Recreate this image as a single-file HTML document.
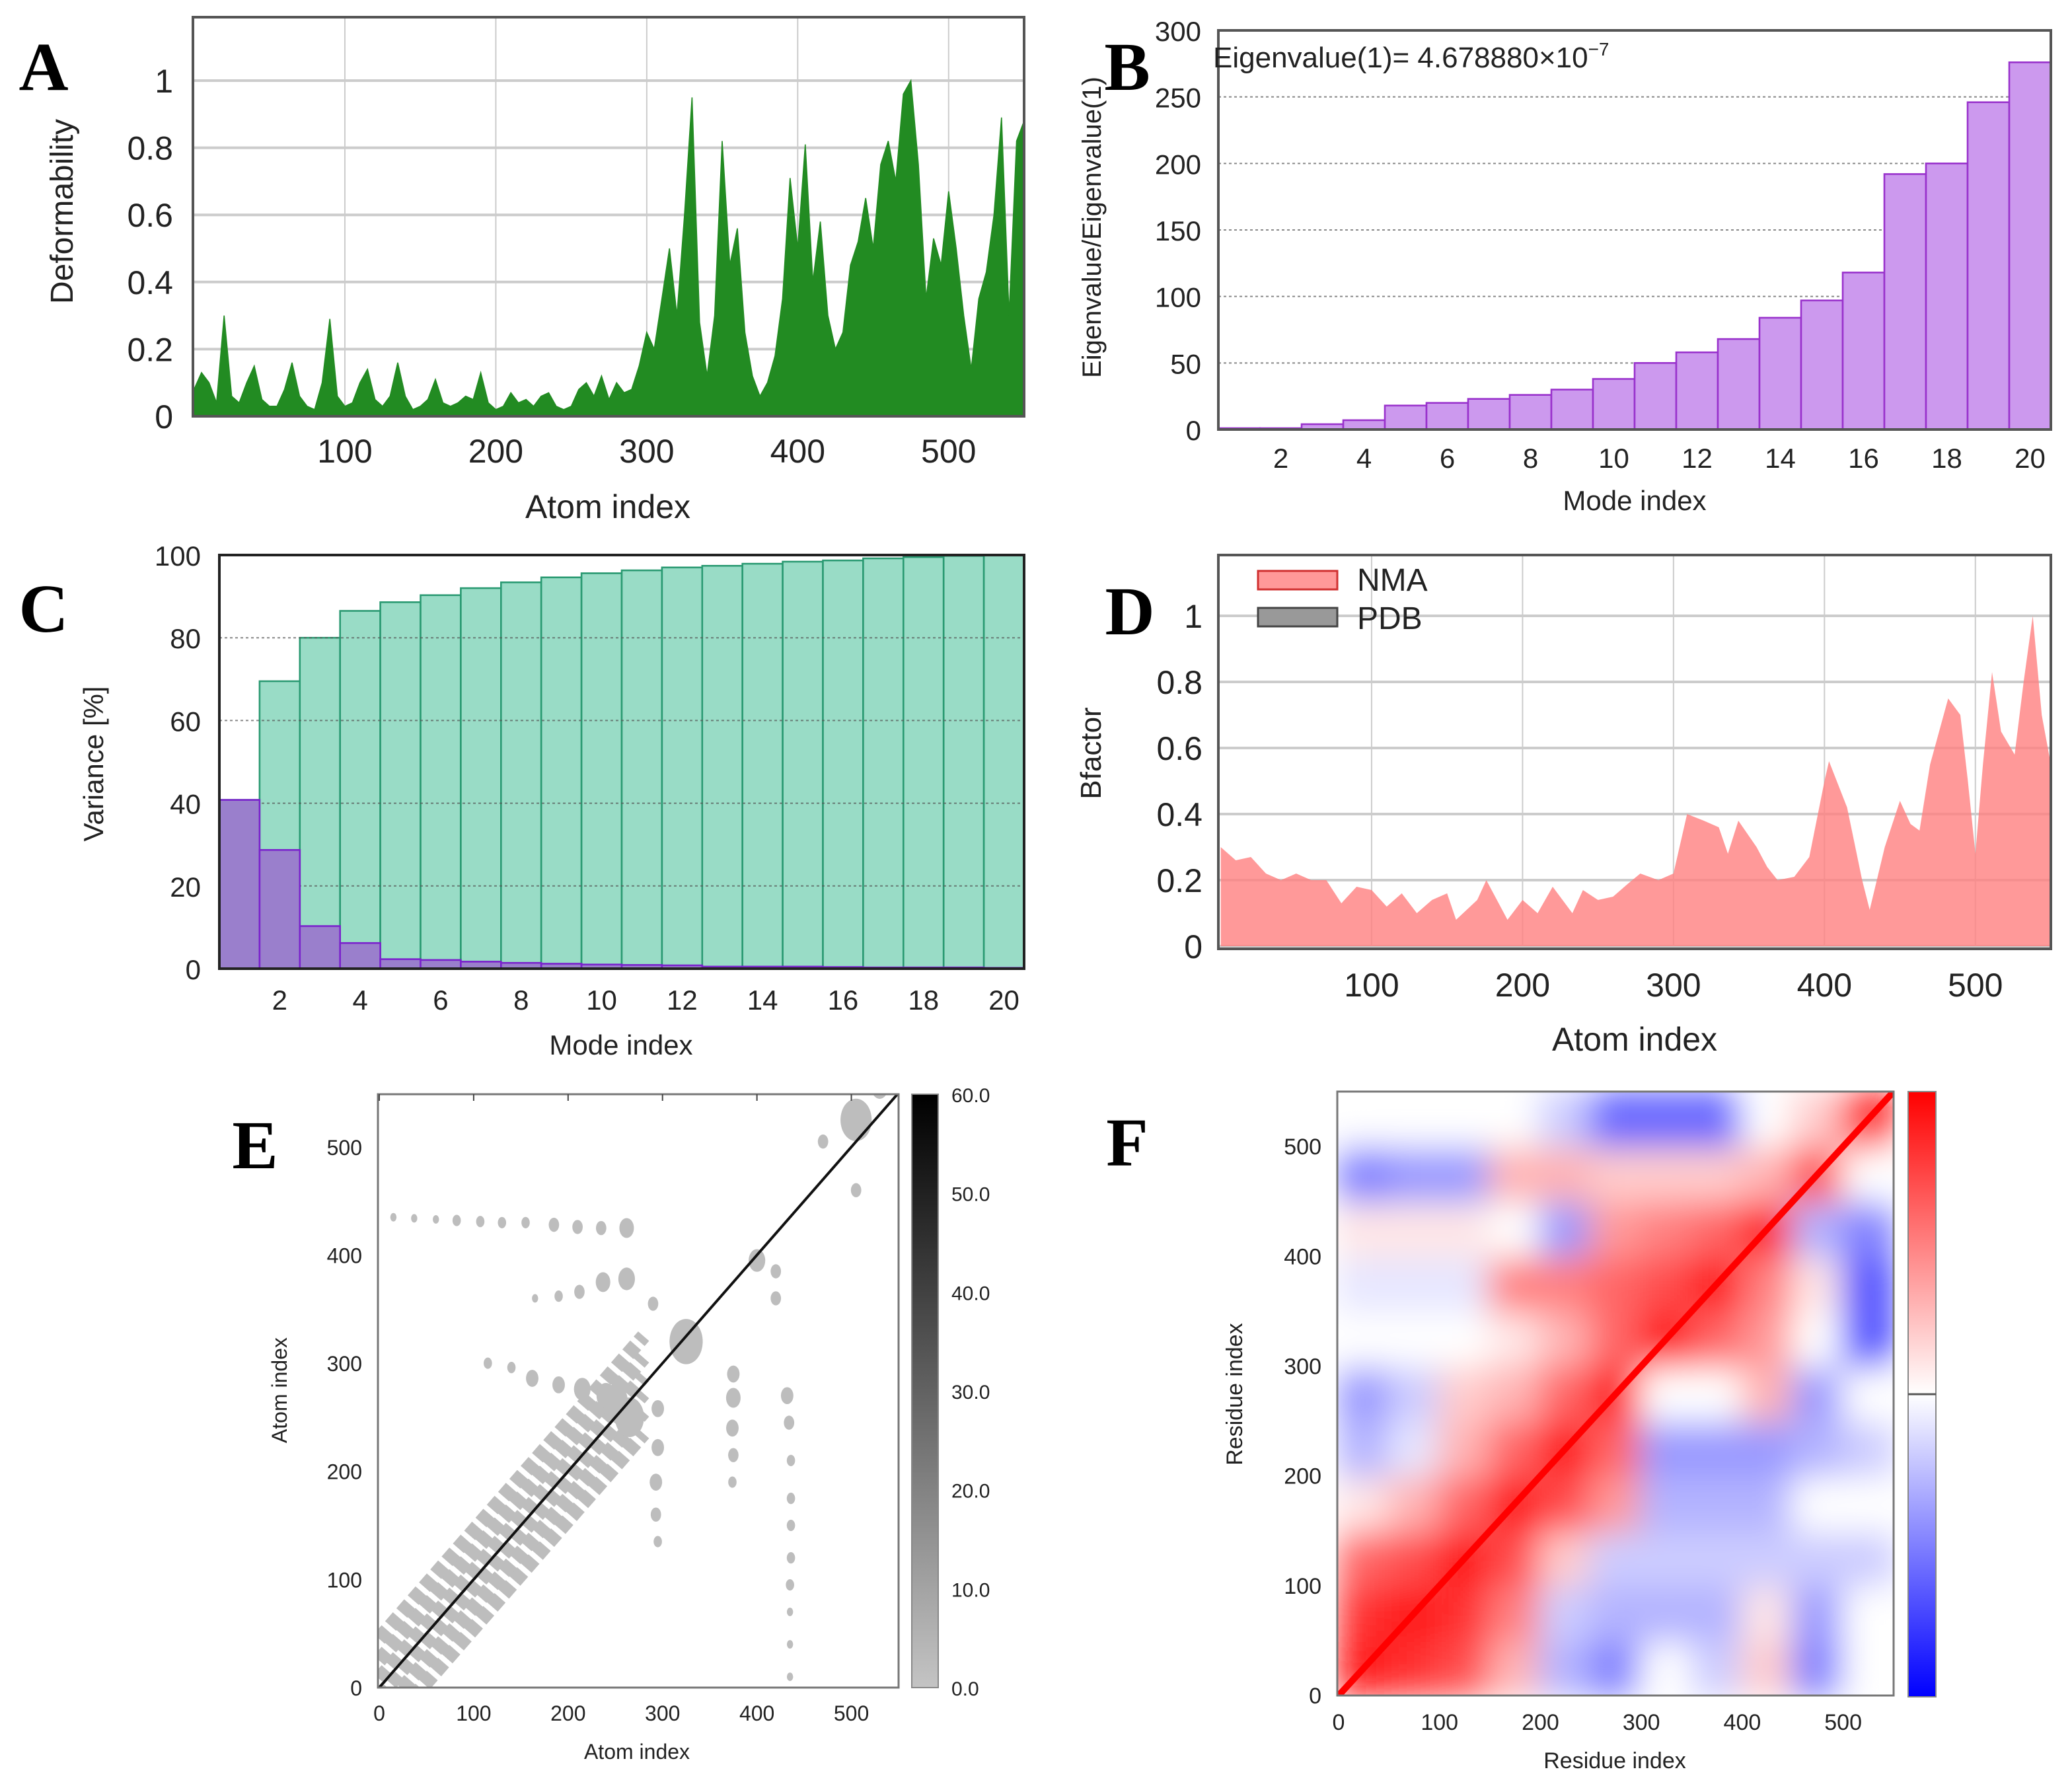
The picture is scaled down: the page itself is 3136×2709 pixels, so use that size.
<!DOCTYPE html>
<html><head><meta charset="utf-8"><style>
html,body{margin:0;padding:0;background:#fff;}
svg{display:block;}
text{font-family:"Liberation Sans Narrow","Liberation Sans",sans-serif;fill:#222;}
.lt{font-family:"Liberation Serif",serif;font-weight:bold;fill:#000;}
</style></head><body>
<svg id="fig" xmlns="http://www.w3.org/2000/svg" width="3136" height="2709" viewBox="0 0 1568 1354.5">
<defs>
<filter id="blurF" x="-10%" y="-10%" width="120%" height="120%"><feGaussianBlur stdDeviation="13"/></filter>
<clipPath id="clipF"><rect x="1012" y="826" width="421" height="457"/></clipPath>
<clipPath id="clipE"><rect x="286" y="828" width="394" height="449"/></clipPath>
<linearGradient id="gradE" x1="0" y1="0" x2="0" y2="1"><stop offset="0" stop-color="#000"/><stop offset="1" stop-color="#c4c4c4"/></linearGradient>
<linearGradient id="gradF" x1="0" y1="0" x2="0" y2="1"><stop offset="0" stop-color="#ff0000"/><stop offset="0.5" stop-color="#ffffff"/><stop offset="1" stop-color="#0000ff"/></linearGradient>
</defs>
</svg>
<script>
// ---- Panel A data (deformability, every 5 atoms) ----
var aAtoms=[0,5,10,15,20,25,30,35,40,45,50,55,60,65,70,75,80,85,90,95,100,105,110,115,120,125,130,135,140,145,150,155,160,165,170,175,180,185,190,195,200,205,210,215,220,225,230,235,240,245,250,255,260,265,270,275,280,285,290,295,300,305,310,315,320,325,330,335,340,345,350,355,360,365,370,375,380,385,390,395,400,405,410,415,420,425,430,435,440,445,450,455,460,465,470,475,480,485,490,495,500,505,510,515,520,525,530,535,540,545,550];
var aValues=[0.08,0.13,0.1,0.04,0.3,0.06,0.04,0.1,0.15,0.05,0.03,0.03,0.08,0.16,0.06,0.03,0.02,0.1,0.29,0.06,0.03,0.04,0.1,0.14,0.05,0.03,0.06,0.16,0.06,0.02,0.03,0.05,0.11,0.04,0.03,0.04,0.06,0.05,0.13,0.04,0.02,0.03,0.07,0.04,0.05,0.03,0.06,0.07,0.03,0.02,0.03,0.08,0.1,0.06,0.12,0.05,0.1,0.07,0.08,0.15,0.25,0.2,0.35,0.5,0.3,0.6,0.95,0.28,0.12,0.3,0.82,0.45,0.56,0.25,0.12,0.06,0.1,0.18,0.35,0.71,0.5,0.81,0.4,0.58,0.3,0.2,0.25,0.45,0.52,0.65,0.5,0.75,0.82,0.7,0.96,1.0,0.75,0.35,0.53,0.45,0.67,0.5,0.3,0.14,0.35,0.43,0.6,0.89,0.3,0.82,0.88];
var aXTicks=[100,200,300,400,500];
var aYTicks=[0,0.2,0.4,0.6,0.8,1];
// ---- Panel B data ----
var bModes=[1,2,3,4,5,6,7,8,9,10,11,12,13,14,15,16,17,18,19,20];
var bValues=[1,1,4,7,18,20,23,26,30,38,50,58,68,84,97,118,192,200,246,276];
var bXTicks=[2,4,6,8,10,12,14,16,18,20];
var bYTicks=[0,50,100,150,200,250,300];
// ---- Panel C data ----
var cModes=[1,2,3,4,5,6,7,8,9,10,11,12,13,14,15,16,17,18,19,20];
var cCumulative=[40.8,69.5,80,86.5,88.6,90.3,92,93.4,94.6,95.6,96.3,97,97.4,97.9,98.4,98.7,99.2,99.5,99.8,100];
var cIndividual=[40.8,28.7,10.3,6.2,2.3,2.1,1.7,1.4,1.2,1.0,0.9,0.8,0.5,0.5,0.5,0.4,0.3,0.3,0.3,0.2];
var cXTicks=[2,4,6,8,10,12,14,16,18,20];
var cYTicks=[0,20,40,60,80,100];
// ---- Panel D data ----
var dAtoms=[0,10,20,30,40,50,60,70,80,90,100,110,120,130,140,150,156,170,176,190,200,210,220,233,240,250,260,270,278,290,300,309,320,330,336,343,355,362,369,380,390,400,403,415,425,430,440,450,457,463,470,482,490,495,500,505,511,517,526,532,538,544,550];
var dValues=[0.3,0.26,0.27,0.22,0.2,0.22,0.2,0.2,0.13,0.18,0.17,0.12,0.16,0.1,0.14,0.16,0.08,0.14,0.2,0.08,0.14,0.1,0.18,0.1,0.17,0.14,0.15,0.19,0.22,0.2,0.22,0.4,0.38,0.36,0.28,0.38,0.3,0.24,0.2,0.21,0.27,0.5,0.56,0.42,0.2,0.11,0.3,0.44,0.37,0.35,0.55,0.75,0.7,0.5,0.28,0.55,0.83,0.65,0.58,0.8,1.0,0.7,0.55];
var dXTicks=[100,200,300,400,500];
var dYTicks=[0,0.2,0.4,0.6,0.8,1];
// ---- Panel E data (blobs: x, y, radius in atoms) ----
var eBandStart=[0,0];
var eBandEnd=[280,280];
var eBandOffsets=[-45,-25,-8,8,25,45];
var eBlobX=[15,37,60,82,107,130,155,185,210,235,262,165,190,212,237,262,290,115,140,162,190,215,240,435,435,435,435,436,436,436,436,434,432,375,375,374,375,374,295,295,293,293,295,325,400,505,470,505,420,530,420,265,250];
var eBlobY=[435,434,433,432,431,430,430,428,426,425,425,360,362,366,375,378,355,300,296,286,280,276,270,10,40,70,95,120,150,175,210,245,270,290,268,240,215,190,258,222,190,160,135,320,395,525,505,460,385,555,360,250,265];
var eBlobR=[3,3,3,4,4,4,4,5,5,5,7,3,4,5,7,8,5,4,4,6,6,8,9,3,3,3,4,4,4,4,4,5,6,6,7,6,5,4,6,6,6,5,4,16,8,15,5,5,5,8,5,14,12];
var eXTicks=[0,100,200,300,400,500];
var eYTicks=[0,100,200,300,400,500];
var eCbTicks=[0,10,20,30,40,50,60];
// ---- Panel F data (coarse correlation grid, rows bottom->top, 50 residues each) ----
var fRows=[
[0.9,0.8,0.7,0.3,-0.3,-0.5,0,-0.2,0.2,-0.5,0],
[0.8,0.9,0.8,0.5,-0.2,-0.3,-0.3,-0.3,0.1,-0.4,0],
[0.6,0.7,0.9,0.7,0.2,-0.2,-0.2,-0.2,-0.2,-0.2,-0.2],
[0.1,0.3,0.6,0.9,0.7,0.4,-0.3,-0.3,-0.3,0,0],
[-0.3,-0.1,0.3,0.6,0.9,0.6,-0.4,-0.4,-0.4,-0.3,-0.2],
[-0.4,-0.2,0.2,0.3,0.6,0.9,0,0,0.3,-0.4,0],
[0,0,0,0.1,0.3,0.6,0.9,0.6,0.4,0,-0.7],
[-0.1,-0.1,-0.1,0.5,0.5,0.6,0.7,0.9,0.5,0.1,-0.7],
[0.1,0.1,0.1,0,-0.4,0.4,0.5,0.6,0.9,-0.3,-0.5],
[-0.5,-0.4,-0.4,0.3,0.3,0.2,0.2,0.2,0.3,0.7,0],
[0,0,0,0,-0.2,-0.6,-0.6,-0.6,0,0.2,0.9]];
var fXTicks=[0,100,200,300,400,500];
var fYTicks=[0,100,200,300,400,500];

var NS='http://www.w3.org/2000/svg';
var svg=document.getElementById('fig');
function mk(tag,attrs,parent){var e=document.createElementNS(NS,tag);for(var k in attrs)e.setAttribute(k,attrs[k]);(parent||svg).appendChild(e);return e;}
function txt(s,x,y,size,anchor,extra){var e=mk('text',{x:x,y:y,'font-size':size,'text-anchor':anchor||'middle'});if(extra)for(var k in extra)e.setAttribute(k,extra[k]);e.textContent=s;return e;}
function lin(d0,d1,p0,p1){return function(v){return p0+(v-d0)*(p1-p0)/(d1-d0);};}

// ================= Panel A =================
(function(){
var L=146,R=775,T=13,B=315;
var x=lin(0,550,146.75,775), y=lin(0,1,315,61);
var g=mk('g',{});


var bg=mk('rect',{x:L,y:T,width:R-L,height:B-T,fill:'#fff'},g);


aXTicks.forEach(function(t){var l=mk('line',{x1:x(t),x2:x(t),y1:T,y2:B,stroke:'#ccc','stroke-width':1},g);


var tl=txt(String(t),x(t),350,25,'middle');g.appendChild(tl);

});
aYTicks.forEach(function(t){var l=mk('line',{x1:L,x2:R,y1:y(t),y2:y(t),stroke:'#ccc','stroke-width':2},g);


var tl=txt(String(t),131,y(t)+9,25,'end');g.appendChild(tl);

});
var pts=[[x(aAtoms[0]),y(0)]];
for(var i=0;i<aAtoms.length;i++)pts.push([x(aAtoms[i]),y(aValues[i])]);
pts.push([x(aAtoms[aAtoms.length-1]),y(0)]);
var area=mk('polygon',{points:pts.map(function(p){return p[0].toFixed(1)+','+p[1].toFixed(1);}).join(' '),fill:'#228b22',stroke:'#228b22','stroke-width':0.8},g);


var fr=mk('rect',{x:L,y:T,width:R-L,height:B-T,fill:'none',stroke:'#555','stroke-width':2},g);


var xt=txt('Atom index',460,392,25);
var yt=txt('Deformability',55,160,24,'middle',{transform:'rotate(-90 55 160)'});
var lt=txt('A',33,68,52,'middle',{'class':'lt'});
})();

// ================= Panel B =================
(function(){
var L=922,R=1552,T=23,B=325;
var bw=(R-L)/20;
var x=function(m){return L+(m-0.5)*bw;}, y=lin(0,300,325,23);
bYTicks.forEach(function(t){if(t>0&&t<300){var l=mk('line',{x1:L,x2:R,y1:y(t),y2:y(t),stroke:'#888','stroke-width':1,'stroke-dasharray':'2,2'});

}
var tl=txt(String(t),909,y(t)+8,21,'end');

});
bXTicks.forEach(function(t){var tl=txt(String(t),x(t),354,21);

});
for(var i=0;i<bModes.length;i++){var h=y(0)-y(bValues[i]);
var r=mk('rect',{x:x(bModes[i])-bw/2,y:y(bValues[i]),width:bw,height:h,fill:'#cc99ee',stroke:'#9932cc','stroke-width':1.3});

}
var fr=mk('rect',{x:L,y:T,width:R-L,height:B-T,fill:'none',stroke:'#555','stroke-width':2});


var an=mk('text',{x:918,y:51,'font-size':22,'text-anchor':'start'});


var t1=mk('tspan',{},an);t1.textContent='Eigenvalue(1)= 4.678880\u00d710';
var t2=mk('tspan',{dy:-9,'font-size':14},an);t2.textContent='\u22127';
var xt=txt('Mode index',1237,386,21);
var yt=txt('Eigenvalue/Eigenvalue(1)',833,172,20,'middle',{transform:'rotate(-90 833 172)'});
var lt=txt('B',853,68,52,'middle',{'class':'lt'});
})();

// ================= Panel C =================
(function(){
var L=166,R=775,T=420,B=733;
var bw=(R-L)/20;
var x=function(m){return L+(m-0.5)*bw;}, y=lin(0,100,733,420);
for(var i=0;i<cModes.length;i++){
var r=mk('rect',{x:x(cModes[i])-bw/2,y:y(cCumulative[i]),width:bw,height:y(0)-y(cCumulative[i]),fill:'#99dcc6',stroke:'#2a9a72','stroke-width':1.3});

}
cYTicks.forEach(function(t){if(t>0&&t<100){var l=mk('line',{x1:L,x2:R,y1:y(t),y2:y(t),stroke:'#555','stroke-width':1,'stroke-dasharray':'2,2','opacity':0.7});

}
var tl=txt(String(t),152,y(t)+8,21,'end');

});
for(var j=0;j<cModes.length;j++){
var r2=mk('rect',{x:x(cModes[j])-bw/2,y:y(cIndividual[j]),width:bw,height:y(0)-y(cIndividual[j]),fill:'#9a7fcc',stroke:'#7a22cc','stroke-width':1.3});

}
cXTicks.forEach(function(t){var tl=txt(String(t),x(t),764,21);

});
var fr=mk('rect',{x:L,y:T,width:R-L,height:B-T,fill:'none',stroke:'#222','stroke-width':2});


var xt=txt('Mode index',470,798,21);
var yt=txt('Variance [%]',78,578,21,'middle',{transform:'rotate(-90 78 578)'});
var lt=txt('C',33,478,52,'middle',{'class':'lt'});
})();

// ================= Panel D =================
(function(){
var L=922,R=1552,T=420,B=718;
var x=lin(0,550,923.75,1552), y=lin(0,1,716,466);
dXTicks.forEach(function(t){var l=mk('line',{x1:x(t),x2:x(t),y1:T,y2:B,stroke:'#ccc','stroke-width':1});


var tl=txt(String(t),x(t),754,25);

});
dYTicks.forEach(function(t){var l=mk('line',{x1:L,x2:R,y1:y(t),y2:y(t),stroke:'#ccc','stroke-width':2});


var tl=txt(String(t),910,y(t)+9,25,'end');

});
var pts=[[x(dAtoms[0]),y(0)]];
for(var i=0;i<dAtoms.length;i++)pts.push([x(dAtoms[i]),y(dValues[i])]);
pts.push([x(dAtoms[dAtoms.length-1]),y(0)]);
var area=mk('polygon',{points:pts.map(function(p){return p[0].toFixed(1)+','+p[1].toFixed(1);}).join(' '),fill:'#ff8080','fill-opacity':0.8});


var fr=mk('rect',{x:L,y:T,width:R-L,height:B-T,fill:'none',stroke:'#555','stroke-width':2});


var lg=mk('g',{});


var s1=mk('rect',{x:952,y:432,width:60,height:14,fill:'#ff9999',stroke:'#d03030','stroke-width':1.5},lg);


var t1=txt('NMA',1027,447,24,'start');lg.appendChild(t1);


var s2=mk('rect',{x:952,y:460,width:60,height:14,fill:'#999',stroke:'#444','stroke-width':1.5},lg);


var t2=txt('PDB',1027,476,24,'start');lg.appendChild(t2);


var xt=txt('Atom index',1237,795,25);
var yt=txt('Bfactor',833,570,22,'middle',{transform:'rotate(-90 833 570)'});
var lt=txt('D',855,480,52,'middle',{'class':'lt'});
})();

// ================= Panel E =================
(function(){
var L=286,R=680,T=828,B=1277;
var x=lin(0,550,287,680), y=lin(0,550,1277,827);
var sx=(680-287)/550;
var g=mk('g',{'clip-path':'url(#clipE)'});


eBandOffsets.forEach(function(o){
var band=mk('line',{x1:x(eBandStart[0]),y1:y(eBandStart[1]+o),x2:x(eBandEnd[0]),y2:y(eBandEnd[1]+o),stroke:'#bdbdbd','stroke-width':11,'stroke-dasharray':'9,4'},g);

});
for(var i=0;i<eBlobX.length;i++){
var c=mk('ellipse',{cx:x(eBlobX[i]),cy:y(eBlobY[i]),rx:eBlobR[i]*sx*1.1,ry:eBlobR[i]*sx*1.5,fill:'#bdbdbd'},g);

}
var diag=mk('line',{x1:x(0),y1:y(0),x2:x(550),y2:y(550),stroke:'#111','stroke-width':2},g);


var fr=mk('rect',{x:L,y:T,width:R-L,height:B-T,fill:'none',stroke:'#777','stroke-width':1.5});


eXTicks.forEach(function(t){var tl=txt(String(t),x(t),1302,16);


var tk=mk('line',{x1:x(t),x2:x(t),y1:T,y2:T+5,stroke:'#444'});

});
eYTicks.forEach(function(t){var tl=txt(String(t),274,y(t)+6,16,'end');

});
var cb=mk('rect',{x:690,y:828,width:20,height:449,fill:'url(#gradE)',stroke:'#888','stroke-width':1});


var cy=lin(0,60,1277,828);
eCbTicks.forEach(function(t){var tl=txt(t.toFixed(1),720,cy(t)+6,15,'start');

});
var xt=txt('Atom index',482,1331,16);
var yt=txt('Atom index',217,1052,16,'middle',{transform:'rotate(-90 217 1052)'});
var lt=txt('E',193,884,52,'middle',{'class':'lt'});
})();

// ================= Panel F =================
(function(){
var L=1012,R=1433,T=826,B=1283;
var x=lin(0,550,1013,1433), y=lin(0,550,1283,826);
function col(v){v=Math.max(-1,Math.min(1,v));var a,b,c;if(v>=0){a=255;b=c=Math.round(255*(1-v));}else{a=b=Math.round(255*(1+v));c=255;}return 'rgb('+a+','+b+','+c+')';}
var outer=mk('g',{'clip-path':'url(#clipF)'});


var g=mk('g',{filter:'url(#blurF)'},outer);
var n=fRows.length, step=550/n;
for(var r=0;r<n;r++)for(var c=0;c<n;c++){
var x0=x(c*step),x1=x((c+1)*step),y0=y((r+1)*step),y1=y(r*step);
var cell=mk('rect',{x:x0-1,y:y0-1,width:x1-x0+2,height:y1-y0+2,fill:col(fRows[r][c])},g);

}
var d=mk('line',{x1:x(0),y1:y(0),x2:x(550),y2:y(550),stroke:'#ff0000','stroke-width':5},outer);


var fr=mk('rect',{x:L,y:T,width:R-L,height:B-T,fill:'none',stroke:'#777','stroke-width':1.5});


fXTicks.forEach(function(t){var tl=txt(String(t),x(t),1309,17);

});
fYTicks.forEach(function(t){var tl=txt(String(t),1000,y(t)+6,17,'end');

});
var cb=mk('rect',{x:1444,y:826,width:21,height:458,fill:'url(#gradF)',stroke:'#888','stroke-width':1});


var cm=mk('line',{x1:1444,x2:1465,y1:1055,y2:1055,stroke:'#555','stroke-width':1.5});


var xt=txt('Residue index',1222,1338,17);
var yt=txt('Residue index',940,1055,17,'middle',{transform:'rotate(-90 940 1055)'});
var lt=txt('F',853,882,52,'middle',{'class':'lt'});
})();
</script>
</body></html>
